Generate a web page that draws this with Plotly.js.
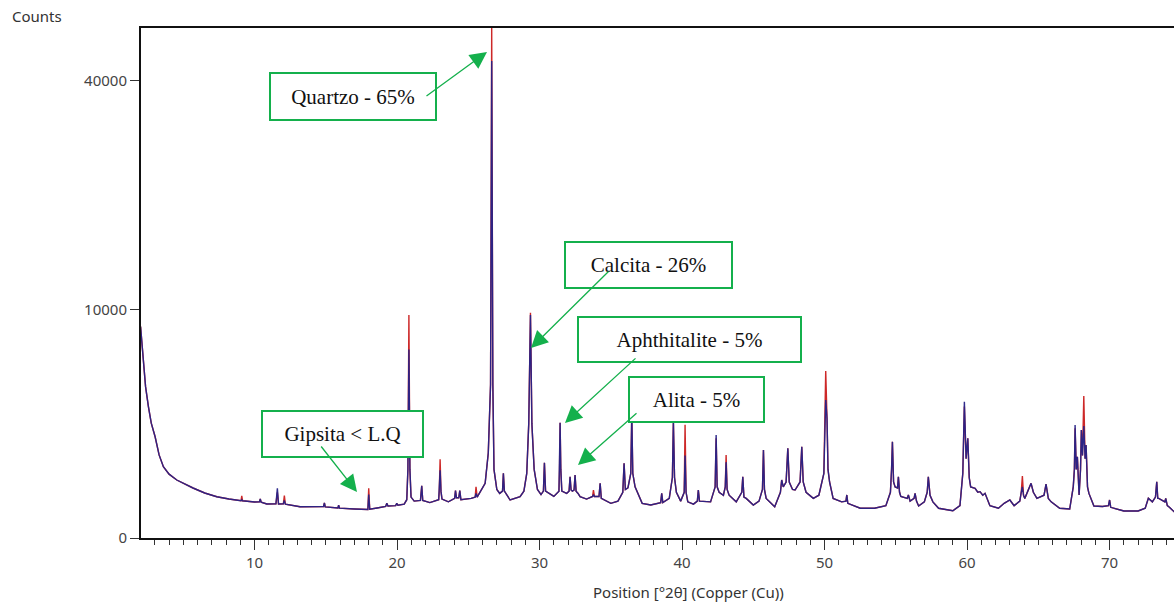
<!DOCTYPE html>
<html>
<head>
<meta charset="utf-8">
<script src="https://cdn.plot.ly/plotly-3.0.1.min.js"></script>
<style>html,body{margin:0;padding:0;background:#fff;}#chart{width:1174px;height:603px;}</style>
</head>
<body>
<div id="chart"></div>
<script>
// Position [°2θ]
const twoTheta = [
  2.00,2.10,2.20,2.35,2.55,2.75,3.02,3.30,3.60,4.00,
  4.54,5.10,5.68,6.50,7.35,8.20,8.98,9.05,9.10,9.16,
  10.00,10.34,10.40,10.46,10.86,11.50,11.60,11.68,12.02,12.09,
  12.16,13.19,14.84,14.90,14.96,15.51,15.85,15.90,15.96,17.00,
  17.87,17.95,18.01,18.08,18.60,19.20,19.28,19.36,19.90,19.98,
  20.06,20.50,20.68,20.76,20.83,20.90,20.98,21.20,21.64,21.73,
  21.80,22.30,22.92,22.96,23.02,23.08,23.15,23.60,24.04,24.10,
  24.17,24.33,24.40,24.48,25.20,25.48,25.54,25.62,26.18,26.40,
  26.56,26.64,26.72,26.80,27.00,27.20,27.40,27.46,27.53,27.93,
  28.63,28.90,29.10,29.24,29.36,29.46,29.62,29.85,30.10,30.27,
  30.34,30.42,31.00,31.36,31.40,31.44,31.49,31.56,31.90,32.07,
  32.14,32.21,32.30,32.42,32.49,32.56,32.70,32.84,33.30,33.72,
  33.78,33.85,34.17,34.25,34.33,35.00,35.50,35.84,35.93,36.02,
  36.20,36.40,36.47,36.54,36.70,37.20,37.80,38.50,38.57,38.65,
  39.10,39.32,39.39,39.47,39.60,39.90,40.15,40.21,40.28,40.40,
  40.80,41.07,41.14,41.22,42.00,42.32,42.39,42.46,42.60,42.90,
  43.03,43.09,43.16,43.30,43.80,44.19,44.26,44.34,44.50,45.00,
  45.40,45.64,45.71,45.78,45.90,46.50,46.90,46.99,47.10,47.30,
  47.42,47.52,47.75,47.93,48.28,48.40,48.50,48.70,49.21,49.60,
  49.95,50.03,50.08,50.17,50.24,50.35,50.60,51.20,51.50,51.56,
  51.63,52.50,53.50,54.30,54.62,54.70,54.76,54.84,54.95,55.12,
  55.18,55.26,55.35,55.80,55.88,56.00,56.28,56.35,56.45,56.60,
  57.00,57.20,57.28,57.40,57.60,58.00,59.00,59.50,59.70,59.81,
  59.93,60.05,60.15,60.25,60.56,60.75,60.91,61.10,61.26,61.60,
  62.20,62.60,63.00,63.30,63.70,63.80,63.88,63.96,64.05,64.49,
  64.65,64.90,65.40,65.54,65.70,65.90,66.50,67.20,67.45,67.53,
  67.58,67.66,67.74,67.86,67.96,68.02,68.10,68.19,68.28,68.35,
  68.45,68.55,68.90,69.50,69.92,70.00,70.08,71.00,72.00,72.50,
  72.72,73.00,73.22,73.31,73.38,73.45,73.88,73.94,74.05,74.20,
  74.60
];
// Observed counts (red trace)
const countsObs = [
  8540,7100,5860,4380,3300,2520,1960,1320,970,780,
  643,557,478,387,326,291,262,265,340,265,
  248,250,290,245,221,225,400,222,224,345,
  220,187,190,234,185,172,172,205,170,161,
  150,155,472,158,172,190,230,195,200,230,
  205,220,280,900,9500,900,320,260,270,523,
  270,240,280,420,1184,420,290,250,300,430,
  310,310,430,280,300,320,500,320,572,1380,
  4500,50000,4500,900,450,380,420,800,420,276,
  326,420,800,2500,9700,2500,900,450,360,420,
  1084,420,330,420,900,2540,900,420,380,420,
  718,440,420,440,760,420,380,326,290,330,
  440,330,330,570,300,230,260,400,1067,450,
  480,800,2900,800,500,230,208,240,382,240,
  300,700,2600,700,400,260,400,2450,400,250,
  220,260,440,260,250,500,1900,500,400,350,
  500,1317,450,350,250,400,718,320,300,208,
  260,450,1481,450,300,187,400,643,500,600,
  1538,600,450,440,600,1594,600,400,301,350,
  800,3000,5330,2740,900,600,300,250,260,354,
  230,169,169,200,400,900,1773,600,500,480,
  718,400,330,300,354,260,300,382,260,196,
  250,400,718,350,250,169,142,200,800,3300,
  1200,1900,700,500,472,400,410,350,382,200,
  170,230,276,200,260,400,735,350,300,572,
  400,300,350,557,300,250,169,160,500,900,
  2300,900,1264,354,900,2230,1300,3855,1200,1654,
  500,380,196,190,200,276,180,140,140,170,
  301,250,320,606,300,300,250,301,200,180,
  122
];
// Calculated counts (blue trace)
const countsCalc = [
  8540,7100,5860,4380,3300,2520,1960,1320,970,780,
  643,557,478,387,326,291,262,265,280,265,
  248,250,290,245,221,225,470,222,224,270,
  220,187,190,234,185,172,172,205,170,161,
  150,155,360,158,172,190,230,195,200,230,
  205,220,280,900,6800,900,320,260,270,523,
  270,240,280,420,880,420,290,250,300,430,
  310,310,430,280,300,320,380,320,572,1380,
  4500,43500,4500,900,450,380,420,800,420,276,
  326,420,800,2500,9500,2500,900,450,360,420,
  1084,420,330,420,900,2540,900,420,380,420,
  718,440,420,440,760,420,380,326,290,330,
  360,330,330,570,300,230,260,400,1067,450,
  480,800,2900,800,500,230,208,240,382,240,
  300,700,2600,700,400,260,400,1300,400,250,
  220,260,440,260,250,500,2028,500,400,350,
  500,1100,450,350,250,400,718,320,300,208,
  260,450,1481,450,300,187,400,643,500,600,
  1538,600,450,440,600,1594,600,400,301,350,
  800,3000,3640,2740,900,600,300,250,260,354,
  230,169,169,200,400,900,1773,600,500,480,
  718,400,330,300,354,260,300,382,260,196,
  250,400,718,350,250,169,142,200,800,3552,
  1200,1900,700,500,472,400,410,350,382,200,
  170,230,276,200,260,400,500,350,300,572,
  400,300,350,557,300,250,169,160,500,900,
  2441,900,1264,354,900,2230,1300,2400,1200,1654,
  500,380,196,190,200,276,180,140,140,170,
  301,250,320,606,300,300,250,301,200,180,
  122
];

const yTickCounts = [0, 10000, 40000];
const xTickVals = [10, 20, 30, 40, 50, 60, 70];
const phaseLabels = ["Quartzo - 65%", "Calcita - 26%", "Aphthitalite - 5%", "Alita - 5%", "Gipsita < L.Q"];

// Layout geometry helpers (pixel -> axis coordinates)
const L = 141, T = 28, B = 538, R = 1174;
const XR = [2.03, 74.52];
const YR = [0, (B - T) / 2.287];
const px2x = px => XR[0] + (px - L) * (XR[1] - XR[0]) / (R - L);
const py2y = py => (B - py) * (YR[1] - YR[0]) / (B - T);

const sq = a => a.map(v => Math.sqrt(v));

const traces = [
  {x: twoTheta, y: sq(countsObs), type: 'scatter', mode: 'lines',
   line: {color: 'rgb(205,40,40)', width: 1.4}, hoverinfo: 'skip', showlegend: false},
  {x: twoTheta, y: sq(countsCalc), type: 'scatter', mode: 'lines',
   line: {color: 'rgb(38,34,135)', width: 1.4}, opacity: 0.96, hoverinfo: 'skip', showlegend: false}
];

const green = '#14b04c';
// boxes: [cx, cy, w, h] in pixels
const boxes = [[353, 96.5, 168, 49], [648.5, 265, 169, 48], [689.5, 339.5, 225, 47], [696.5, 399.5, 137, 47], [342.5, 434, 163, 48]];
// arrows: [tailX, tailY, headX, headY] in pixels
const arrows = [[425, 97, 487, 52], [610, 270, 531, 348], [637, 357, 565, 423], [638, 412, 578, 465], [320, 445, 357, 492]];

const sans = 'Noto Sans, Open Sans, sans-serif';
const annotations = [];
boxes.forEach((b, i) => {
  annotations.push({
    x: px2x(b[0]), y: py2y(b[1]), xref: 'x', yref: 'y', xanchor: 'center', yanchor: 'middle',
    text: phaseLabels[i], showarrow: false, width: b[2] - 4, height: b[3] - 4,
    bgcolor: '#ffffff', bordercolor: green, borderwidth: 2, borderpad: 0,
    font: {family: 'Liberation Serif, Times New Roman, serif', size: 21, color: '#111'}
  });
});
arrows.forEach(a => {
  annotations.push({
    x: px2x(a[2]), y: py2y(a[3]), xref: 'x', yref: 'y',
    ax: px2x(a[0]), ay: py2y(a[1]), axref: 'x', ayref: 'y',
    text: '', showarrow: true, arrowhead: 2, arrowsize: 2.6, arrowwidth: 1.3, arrowcolor: green
  });
});
annotations.push({
  xref: 'paper', yref: 'paper', x: (10 - L) / (R - L), y: (B - 16) / (B - T),
  xanchor: 'left', yanchor: 'middle', showarrow: false, text: 'Counts',
  font: {family: sans, size: 15, color: '#333'}
});
annotations.push({
  xref: 'paper', yref: 'paper', x: (688 - L) / (R - L), y: (B - 592) / (B - T),
  xanchor: 'center', yanchor: 'middle', showarrow: false, text: 'Position [°2θ] (Copper (Cu))',
  font: {family: sans, size: 15, color: '#333'}
});

const layout = {
  width: 1174, height: 603,
  margin: {l: L, r: 0, t: T, b: 603 - B, pad: 0},
  paper_bgcolor: '#fff', plot_bgcolor: '#fff',
  showlegend: false,
  xaxis: {
    range: XR, tickmode: 'array', tickvals: xTickVals, ticktext: xTickVals.map(String),
    ticks: 'outside', ticklen: 10, tickwidth: 1, tickcolor: '#333',
    minor: {tickmode: 'linear', tick0: 0, dtick: 1, ticks: 'outside', ticklen: 5, tickwidth: 1, tickcolor: '#333', showgrid: false},
    showline: true, linecolor: '#111', linewidth: 2, mirror: true,
    showgrid: false, zeroline: false,
    tickfont: {family: sans, size: 15, color: '#444'}
  },
  yaxis: {
    range: YR, tickmode: 'array', tickvals: yTickCounts.map(Math.sqrt), ticktext: yTickCounts.map(String),
    ticks: 'outside', ticklen: 9, tickwidth: 1, tickcolor: '#333',
    showline: true, linecolor: '#111', linewidth: 2, mirror: false,
    showgrid: false, zeroline: false,
    tickfont: {family: sans, size: 15, color: '#444'}
  },
  annotations: annotations
};

Plotly.newPlot('chart', traces, layout, {staticPlot: true, displayModeBar: false});
</script>
</body>
</html>
